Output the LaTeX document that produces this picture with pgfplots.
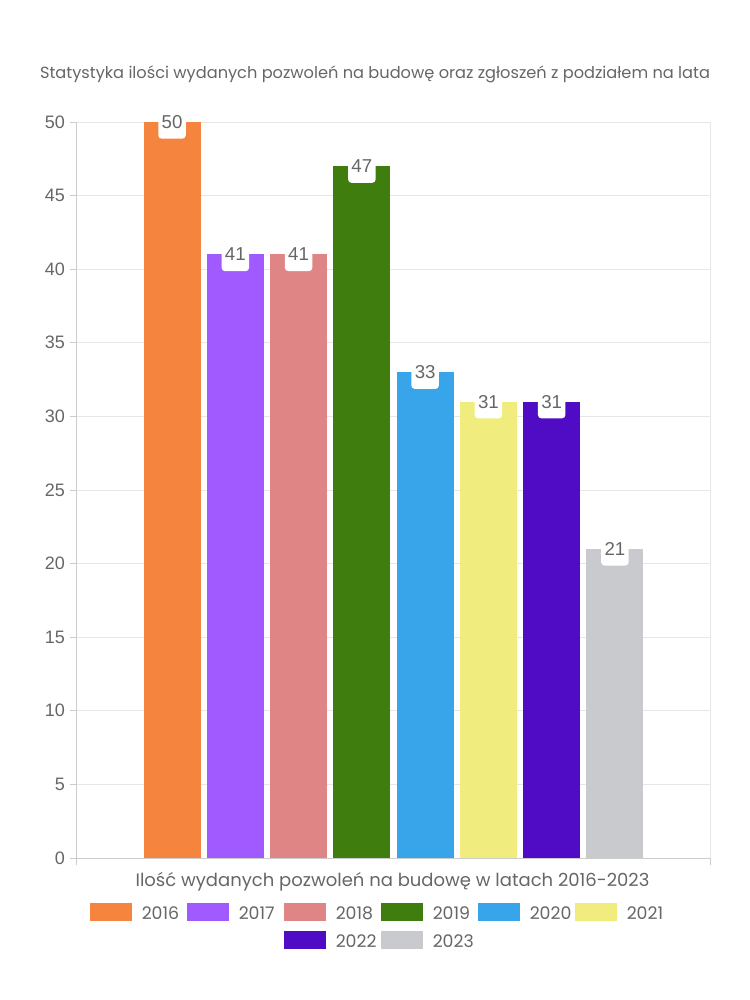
\documentclass[border=0pt]{standalone}
\usepackage{pgfplots}
\pgfplotsset{compat=1.18}
\usepackage{fontspec}
\setmainfont{Poppins}
\newfontfamily\numfont{Liberation Sans}

\definecolor{txt}{HTML}{666666}
\definecolor{gridc}{HTML}{E6E6E6}
\definecolor{axc}{HTML}{CCCCCC}
\definecolor{c2016}{HTML}{F5843F}
\definecolor{c2017}{HTML}{A15AFF}
\definecolor{c2018}{HTML}{E08585}
\definecolor{c2019}{HTML}{3E7D0E}
\definecolor{c2020}{HTML}{38A4EA}
\definecolor{c2021}{HTML}{F0EC7E}
\definecolor{c2022}{HTML}{500BC4}
\definecolor{c2023}{HTML}{C9CACD}

\newcommand\lgd[1]{\makebox[27.75pt][l]{#1}}

\begin{document}
\begin{tikzpicture}
\useasboundingbox (-57.75pt,-106.5pt) rectangle (504.75pt,643.5pt);
\begin{axis}[
    scale only axis,
    width=474.75pt, height=552pt,
    clip=false,
    ybar=4.7pt, bar width=42.75pt,
    xmin=-0.5, xmax=0.5,
    ymin=0, ymax=50,
    xtick={-0.5,0.5}, xticklabels={},
    ytick={0,5,...,50},
    ymajorgrids, xmajorgrids,
    grid style={gridc, line width=0.75pt},
    axis x line*=bottom, axis y line*=left,
    axis line style={axc, line width=0.75pt},
    every axis line/.append style={-},
    tick style={axc, line width=0.75pt},
    tick align=outside,
    major tick length=5.5pt,
    /pgf/number format/assume math mode=true,
    ticklabel style={font=\numfont\fontsize{13.5}{14}\selectfont, text=txt},
    title={Statystyka ilości wydanych pozwoleń na budowę oraz zgłoszeń z podziałem na lata},
    title style={at={(0.4708,1.0489)}, anchor=base, yshift=0pt, font=\fontsize{12.15}{14}\selectfont, text=txt},
    xlabel={Ilość wydanych pozwoleń na budowę w latach 2016-2023},
    xlabel style={at={(0.4984,-0.0394)}, anchor=base, font=\fontsize{13.5}{15}\selectfont, text=txt},
    nodes near coords,
    every node near coord/.append style={
        anchor=center, fill=white, rounded corners=2.5pt,
        inner xsep=2.5pt, inner ysep=0pt, minimum height=25pt,
        font=\numfont\fontsize{14}{15}\selectfont, text=txt},
    legend columns=6,
    legend image code/.code={\fill (0pt,-5.5pt) rectangle (31.5pt,8pt);},
    legend style={
        at={(0.4739,-0.0611)}, anchor=north,
        draw=none, fill=none, inner sep=0pt,
        row sep=7.5pt,
        nodes={inner sep=0pt},
        font=\fontsize{13}{15}\selectfont, text=txt,
        /tikz/every odd column/.append style={column sep=7.2pt},
        /tikz/every even column/.append style={column sep=6.3pt}},
    legend cell align=left,
]
\addplot[fill=c2016, draw=none] coordinates {(0,50)}; \addlegendentry{\lgd{2016}}
\addplot[fill=c2017, draw=none] coordinates {(0,41)}; \addlegendentry{\lgd{2017}}
\addplot[fill=c2018, draw=none] coordinates {(0,41)}; \addlegendentry{\lgd{2018}}
\addplot[fill=c2019, draw=none] coordinates {(0,47)}; \addlegendentry{\lgd{2019}}
\addplot[fill=c2020, draw=none] coordinates {(0,33)}; \addlegendentry{\lgd{2020}}
\addplot[fill=c2021, draw=none] coordinates {(0,31)}; \addlegendentry{\lgd{2021}}
\addlegendimage{empty legend}\addlegendentry{}
\addlegendimage{empty legend}\addlegendentry{}
\addplot[fill=c2022, draw=none] coordinates {(0,31)}; \addlegendentry{\lgd{2022}}
\addplot[fill=c2023, draw=none] coordinates {(0,21)}; \addlegendentry{\lgd{2023}}
\end{axis}
\end{tikzpicture}
\end{document}
